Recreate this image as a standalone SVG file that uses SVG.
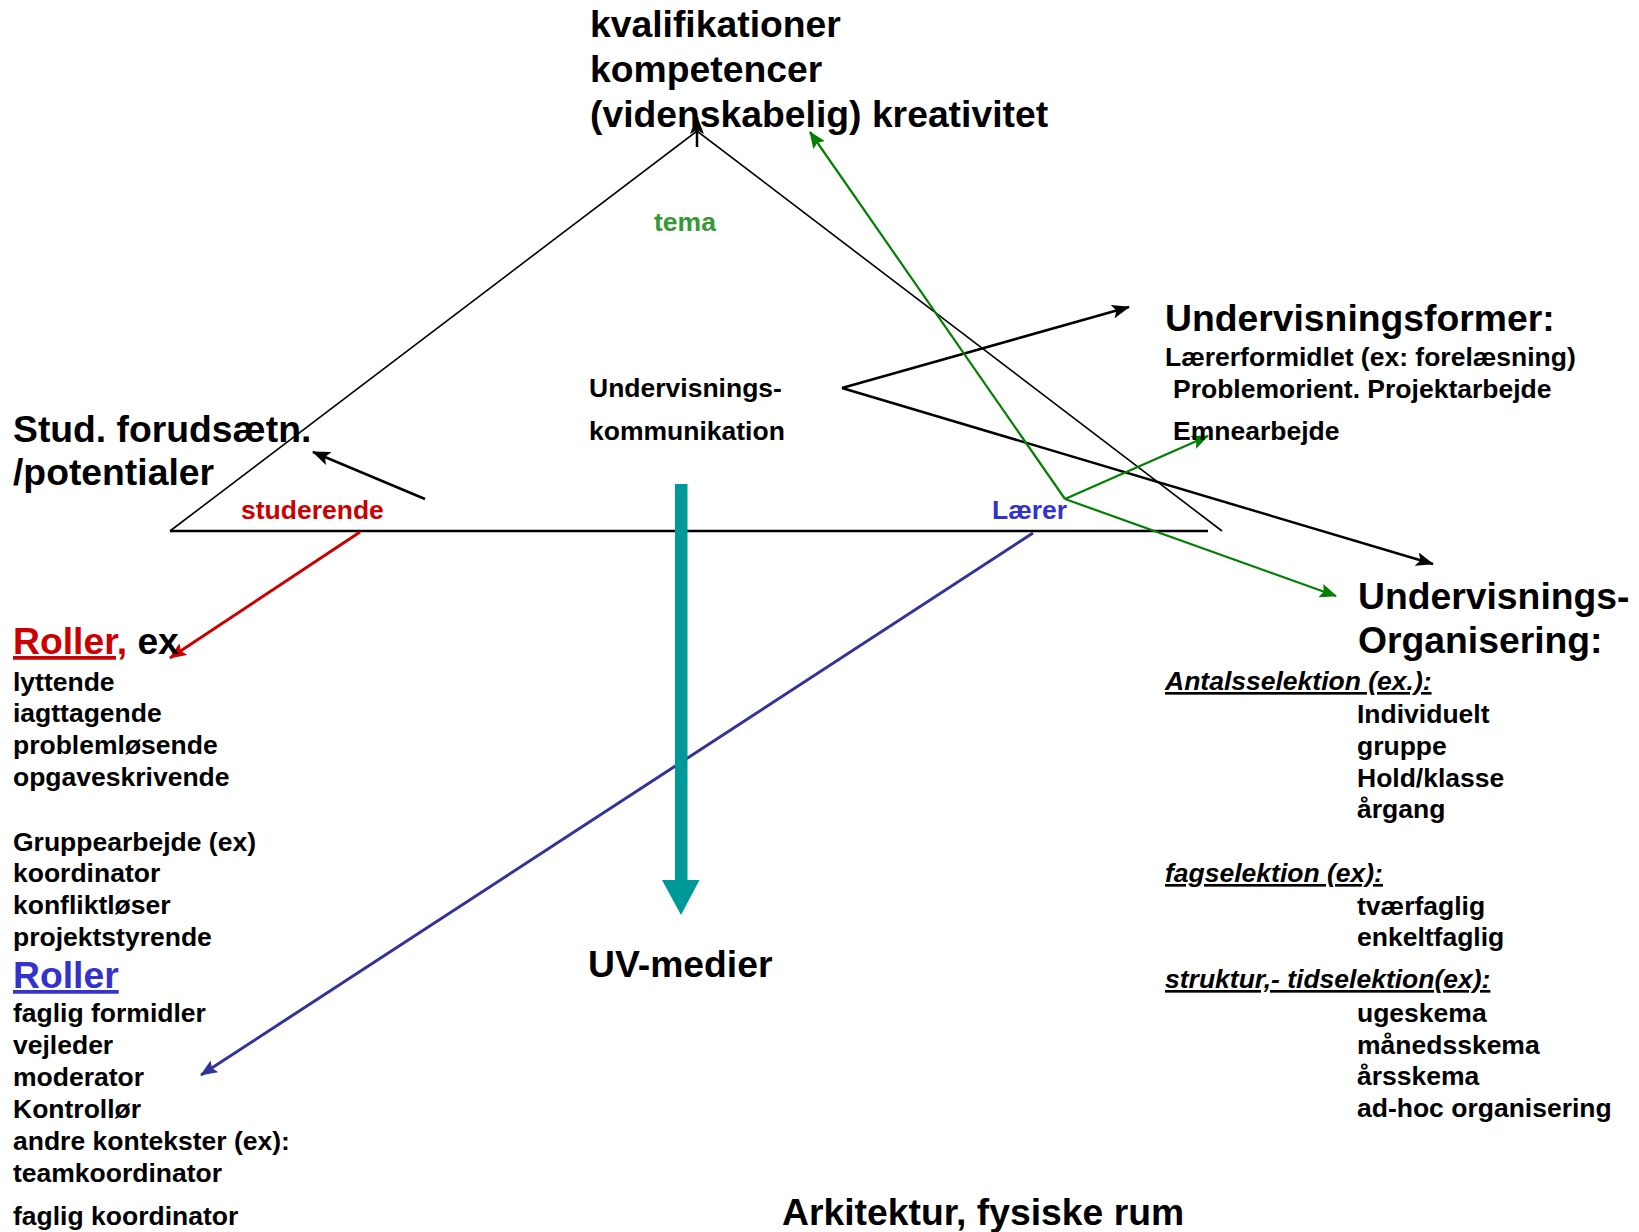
<svg xmlns="http://www.w3.org/2000/svg" width="1639" height="1232" viewBox="0 0 1639 1232">
<style>
text { font-family: "Liberation Sans", Arial, Helvetica, sans-serif; font-weight: bold; fill: #000; }
.big { font-size: 37.3px; }
.sm { font-size: 26.5px; }
.hd { font-size: 26.5px; font-style: italic; text-decoration: underline; }
.red { fill: #cc0000; }
.blue { fill: #3333cc; }
.green { fill: #339933; }
.ul { text-decoration: underline; }
.k { stroke: #000; fill: none; }
.arr-k { stroke: #000; stroke-width: 2.5; fill: none; marker-end: url(#mk); }
.arr-r { stroke: #cc0000; stroke-width: 3; fill: none; marker-end: url(#mr); }
.arr-b { stroke: #333399; stroke-width: 3; fill: none; marker-end: url(#mb); }
.arr-g { stroke: #008000; stroke-width: 2.2; fill: none; marker-end: url(#mg); }
</style>
<defs>
<marker id="mk" markerUnits="userSpaceOnUse" markerWidth="20" markerHeight="14" refX="17" refY="7" orient="auto"><path d="M0,0 L18,7 L0,14 L4,7 z" fill="#000"/></marker>
<marker id="mr" markerUnits="userSpaceOnUse" markerWidth="18" markerHeight="14" refX="16" refY="7" orient="auto"><path d="M0,0 L17,7 L0,14 L3,7 z" fill="#cc0000"/></marker>
<marker id="mb" markerUnits="userSpaceOnUse" markerWidth="18" markerHeight="14" refX="16" refY="7" orient="auto"><path d="M0,0 L17,7 L0,14 L3,7 z" fill="#333399"/></marker>
<marker id="mg" markerUnits="userSpaceOnUse" markerWidth="18" markerHeight="14" refX="16" refY="7" orient="auto"><path d="M0,0 L17,7 L0,14 L3,7 z" fill="#008000"/></marker>
</defs>
<rect width="1639" height="1232" fill="#fff"/>

<g id="triangle">
<polyline class="k" stroke-width="1.6" points="170,531 697,131 1222,531"/>
<line class="k" stroke-width="2.5" x1="170" y1="531" x2="1208" y2="531"/>
</g>

<g id="connectors">
<line class="arr-k" stroke-width="1.6" x1="697" y1="147" x2="697" y2="117"/>
<line class="arr-k" x1="842" y1="388" x2="1129" y2="307"/>
<line class="arr-k" x1="842" y1="388" x2="1433" y2="564"/>
<line class="arr-k" x1="425" y1="499" x2="313" y2="452"/>
<line class="arr-r" x1="360" y1="532" x2="170" y2="658"/>
<line class="arr-b" x1="1033" y1="533" x2="201" y2="1075"/>
<line class="arr-g" x1="1065" y1="499" x2="810" y2="132"/>
<line class="arr-g" x1="1065" y1="499" x2="1208" y2="436"/>
<line class="arr-g" x1="1065" y1="499" x2="1336" y2="596"/>
<g id="teal-arrow" fill="#009999">
<rect x="675" y="484" width="12.5" height="398"/>
<polygon points="662,880 699.5,880 681,915"/>
</g>
</g>

<g id="outcomes">
<text class="big" x="590" y="37">kvalifikationer</text>
<text class="big" x="590" y="82">kompetencer</text>
<text class="big" x="590" y="127">(videnskabelig) kreativitet</text>
</g>

<g id="tema"><text class="sm green" x="654" y="231">tema</text></g>

<g id="uv-kommunikation">
<text class="sm" x="589" y="397">Undervisnings-</text>
<text class="sm" x="589" y="440">kommunikation</text>
</g>

<g id="undervisningsformer">
<text class="big" x="1165" y="331">Undervisningsformer:</text>
<text class="sm" x="1165" y="366">Lærerformidlet (ex: forelæsning)</text>
<text class="sm" x="1173" y="398">Problemorient. Projektarbejde</text>
<text class="sm" x="1173" y="440">Emnearbejde</text>
</g>

<g id="stud-forudsaetn">
<text class="big" x="13" y="442">Stud. forudsætn.</text>
<text class="big" x="13" y="485">/potentialer</text>
</g>

<g id="studerende"><text class="sm red" x="241" y="519">studerende</text></g>
<g id="laerer"><text class="sm blue" x="992" y="519">Lærer</text></g>

<g id="roller-studerende">
<text class="big" x="13" y="654"><tspan class="red ul">Roller,</tspan> ex</text>
<text class="sm" x="13" y="691">lyttende</text>
<text class="sm" x="13" y="722">iagttagende</text>
<text class="sm" x="13" y="754">problemløsende</text>
<text class="sm" x="13" y="786">opgaveskrivende</text>
<text class="sm" x="13" y="851">Gruppearbejde (ex)</text>
<text class="sm" x="13" y="882">koordinator</text>
<text class="sm" x="13" y="914">konfliktløser</text>
<text class="sm" x="13" y="946">projektstyrende</text>
</g>

<g id="roller-laerer">
<text class="big blue ul" x="13" y="988">Roller</text>
<text class="sm" x="13" y="1022">faglig formidler</text>
<text class="sm" x="13" y="1054">vejleder</text>
<text class="sm" x="13" y="1086">moderator</text>
<text class="sm" x="13" y="1118">Kontrollør</text>
<text class="sm" x="13" y="1150">andre kontekster (ex):</text>
<text class="sm" x="13" y="1182">teamkoordinator</text>
<text class="sm" x="13" y="1225">faglig koordinator</text>
</g>

<g id="uv-medier"><text class="big" x="588" y="977">UV-medier</text></g>

<g id="organisering">
<text class="big" x="1358" y="609">Undervisnings-</text>
<text class="big" x="1358" y="653">Organisering:</text>
<text class="hd" x="1165" y="690">Antalsselektion (ex.):</text>
<text class="sm" x="1357" y="723">Individuelt</text>
<text class="sm" x="1357" y="755">gruppe</text>
<text class="sm" x="1357" y="787">Hold/klasse</text>
<text class="sm" x="1357" y="818">årgang</text>
<text class="hd" x="1165" y="882">fagselektion (ex):</text>
<text class="sm" x="1357" y="915">tværfaglig</text>
<text class="sm" x="1357" y="946">enkeltfaglig</text>
<text class="hd" x="1165" y="988">struktur,- tidselektion(ex):</text>
<text class="sm" x="1357" y="1022">ugeskema</text>
<text class="sm" x="1357" y="1054">månedsskema</text>
<text class="sm" x="1357" y="1085">årsskema</text>
<text class="sm" x="1357" y="1117">ad-hoc organisering</text>
</g>

<g id="arkitektur"><text class="big" x="782" y="1225">Arkitektur, fysiske rum</text></g>
</svg>
